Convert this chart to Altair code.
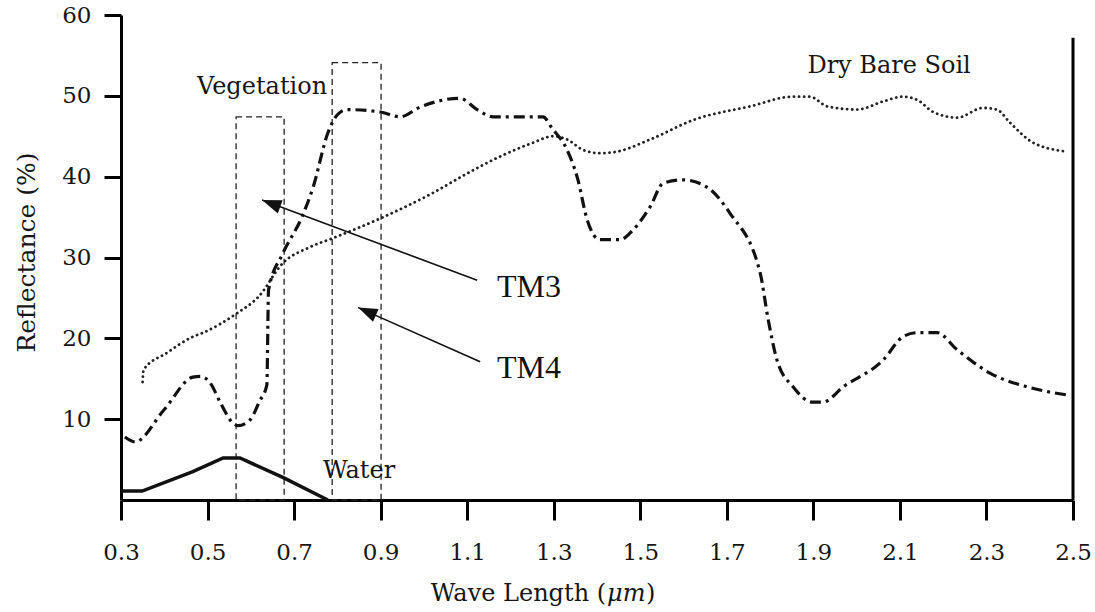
import math
import altair as alt
import pandas as pd

# ---- data ----
veg_x = [0.309, 0.332, 0.400, 0.466, 0.483, 0.506, 0.530, 0.559, 0.570, 0.598, 0.620, 0.637, 0.641,
         0.674, 0.718, 0.744, 0.778, 0.799, 0.822, 0.899, 0.945, 0.991, 1.083, 1.123, 1.160, 1.275,
         1.296, 1.331, 1.356, 1.377, 1.407, 1.453, 1.483, 1.523, 1.553, 1.599, 1.654, 1.707, 1.777,
         1.795, 1.816, 1.853, 1.899, 1.922, 1.969, 2.061, 2.107, 2.140, 2.186, 2.232, 2.308, 2.394, 2.486]
veg_y = [7.8, 7.2, 11.2, 15.2, 15.3, 14.5, 12.0, 9.5, 9.2, 9.9, 12.2, 14.2, 26.0,
         30.5, 35.0, 38.7, 45.4, 47.6, 48.3, 48.0, 47.4, 48.6, 49.7, 48.3, 47.4, 47.4,
         46.0, 43.3, 39.6, 34.7, 32.2, 32.2, 33.4, 36.3, 39.2, 39.6, 38.7, 35.5, 28.1,
         22.5, 17.3, 14.0, 12.1, 12.1, 14.0, 17.3, 20.2, 20.7, 20.7, 18.6, 15.7, 14.0, 13.0]

soil_x = [0.350, 0.352, 0.406, 0.466, 0.490, 0.568, 0.617, 0.674, 0.737, 0.790, 0.906, 1.021, 1.100,
          1.176, 1.252, 1.298, 1.331, 1.368, 1.407, 1.446, 1.523, 1.622, 1.754, 1.853, 1.892, 1.932,
          2.001, 2.061, 2.107, 2.140, 2.177, 2.232, 2.292, 2.324, 2.354, 2.408, 2.486]
soil_y = [14.6, 16.1, 18.2, 20.2, 20.7, 23.1, 25.1, 29.3, 31.3, 32.4, 35.0, 38.0, 40.4,
          42.5, 44.2, 45.0, 44.6, 43.3, 42.9, 43.1, 44.6, 47.0, 48.7, 49.9, 49.9, 48.7,
          48.3, 49.3, 49.9, 49.5, 48.0, 47.3, 48.5, 48.3, 46.7, 44.2, 43.1]

water_x = [0.300, 0.349, 0.466, 0.536, 0.575, 0.674, 0.778]
water_y = [1.1, 1.1, 3.5, 5.2, 5.2, 2.8, 0.0]

# band boxes (TM3, TM4)
box_x1 = [0.566, 0.788]
box_x2 = [0.677, 0.901]
box_top = [47.4, 54.1]

# arrows: tail -> tip
arrow_names = ["TM3", "TM4"]
arrow_tail_x = [1.123, 1.130]
arrow_tail_y = [27.2, 17.1]
arrow_tip_x = [0.626, 0.848]
arrow_tip_y = [37.1, 23.8]

# labels
label_text = ["TM3", "TM4"]
label_x = [1.243, 1.243]
label_y = [26.4, 16.3]

ann_text = ["Vegetation", "Dry Bare Soil", "Water"]
ann_x = [0.626, 2.075, 0.850]
ann_y = [51.1, 53.7, 3.6]

# x-axis title pieces: "Wave Length (" + italic "μm" + ")"
xtitle_parts = ["Wave Length (", "μm", ")"]
xtitle_anchor_x = 1.421
xtitle_anchor_y = -12.5

x_ticks = [0.3, 0.5, 0.7, 0.9, 1.1, 1.3, 1.5, 1.7, 1.9, 2.1, 2.3, 2.5]
y_ticks = [10, 20, 30, 40, 50, 60]

# ---- chart ----
W, H = 952, 485
XD = [0.3, 2.5]
YD = [0, 60]
FONT = "DejaVu Serif"
INK = "#161616"

xscale = alt.Scale(domain=XD, nice=False, zero=False)
yscale = alt.Scale(domain=YD, nice=False, zero=False)

xaxis = alt.Axis(values=x_ticks, format=".1f", title=None,
                 grid=False, domainColor="black", domainWidth=3, tickColor="black",
                 tickWidth=3, tickSize=20, labelPadding=21, labelFontSize=23,
                 labelFont=FONT, labelColor=INK, labelFlush=False)
yaxis = alt.Axis(values=y_ticks, title="Reflectance (%)", grid=False,
                 domainColor="black", domainWidth=3, tickColor="black", tickWidth=3,
                 tickSize=17, labelPadding=13, labelFontSize=23, labelFont=FONT,
                 labelColor=INK, titleFont=FONT, titleFontSize=25, titleFontWeight="normal",
                 titleColor=INK, titleAngle=270, titleX=-95, titleY=237,
                 titleAlign="center", titleBaseline="middle", labelFlush=False)


def X(field="x"):
    return alt.X(f"{field}:Q", scale=xscale, axis=xaxis)


def Y(field="y"):
    return alt.Y(f"{field}:Q", scale=yscale, axis=yaxis)


veg_df = pd.DataFrame({"x": veg_x, "y": veg_y, "o": range(len(veg_x))})
soil_df = pd.DataFrame({"x": soil_x, "y": soil_y, "o": range(len(soil_x))})
water_df = pd.DataFrame({"x": water_x, "y": water_y, "o": range(len(water_x))})

veg = alt.Chart(veg_df).mark_line(
    color="#111", strokeWidth=3.2, strokeDash=[11, 5, 3, 5], interpolate="monotone"
).encode(x=X(), y=Y(), order="o:Q")

soil = alt.Chart(soil_df).mark_line(
    color="#222", strokeWidth=2.8, strokeDash=[0.1, 5], strokeCap="round", interpolate="monotone"
).encode(x=X(), y=Y(), order="o:Q")

water = alt.Chart(water_df).mark_line(
    color="#111", strokeWidth=3.5, interpolate="linear"
).encode(x=X(), y=Y(), order="o:Q")

box_df = pd.DataFrame({"x1": box_x1, "x2": box_x2, "top": box_top, "bottom": [0, 0]})
boxes = alt.Chart(box_df).mark_rect(
    filled=False, stroke="#222", strokeWidth=1.3, strokeDash=[6, 4]
).encode(x=X("x1"), x2="x2:Q", y=Y("bottom"), y2="top:Q")

border_df = pd.DataFrame({"x": [2.5], "y": [0], "y2": [57.2]})
border = alt.Chart(border_df).mark_rule(color="black", strokeWidth=3).encode(
    x=X(), y=Y(), y2="y2:Q")

arrow_df = pd.DataFrame({"name": arrow_names, "x": arrow_tail_x, "y": arrow_tail_y,
                         "x2": arrow_tip_x, "y2": arrow_tip_y})
arrow_lines = alt.Chart(arrow_df).mark_rule(color="#111", strokeWidth=1.6).encode(
    x=X(), y=Y(), x2="x2:Q", y2="y2:Q")

px_per_x = W / (XD[1] - XD[0])
px_per_y = H / (YD[1] - YD[0])
head_layers = []
for i in range(len(arrow_names)):
    dx = (arrow_tip_x[i] - arrow_tail_x[i]) * px_per_x
    dy = -(arrow_tip_y[i] - arrow_tail_y[i]) * px_per_y
    ang = math.degrees(math.atan2(dx, -dy)) % 360
    hdf = pd.DataFrame({"x": [arrow_tip_x[i]], "y": [arrow_tip_y[i]]})
    head_layers.append(
        alt.Chart(hdf).mark_point(
            shape="M0,0 L0.36,1 L-0.36,1 Z", filled=True, color="#111", opacity=1,
            size=1500, angle=ang, strokeWidth=0
        ).encode(x=X(), y=Y())
    )

lab_df = pd.DataFrame({"t": label_text, "x": label_x, "y": label_y})
labels = alt.Chart(lab_df).mark_text(
    font="Liberation Serif", fontSize=32, color="#111", align="center", baseline="middle"
).encode(x=X(), y=Y(), text="t:N")

ann_df = pd.DataFrame({"t": ann_text, "x": ann_x, "y": ann_y})
anns = alt.Chart(ann_df).mark_text(
    font=FONT, fontSize=24, color=INK, align="center", baseline="middle"
).encode(x=X(), y=Y(), text="t:N")

# x-axis title built from three text pieces so that "μm" can be italic
t_df = pd.DataFrame({"x": [xtitle_anchor_x], "y": [xtitle_anchor_y]})
xt1 = alt.Chart(t_df).mark_text(
    font=FONT, fontSize=24, color=INK, align="right", baseline="alphabetic", text=xtitle_parts[0]
).encode(x=X(), y=Y())
xt2 = alt.Chart(t_df).mark_text(
    font=FONT, fontSize=24, fontStyle="italic", color=INK, align="left", baseline="alphabetic",
    text=xtitle_parts[1], dx=1
).encode(x=X(), y=Y())
xt3 = alt.Chart(t_df).mark_text(
    font=FONT, fontSize=24, color=INK, align="left", baseline="alphabetic",
    text=xtitle_parts[2], dx=40
).encode(x=X(), y=Y())

chart = alt.layer(
    boxes, water, soil, veg, border, arrow_lines, *head_layers, labels, anns, xt1, xt2, xt3
).properties(
    width=W, height=H,
    autosize=alt.AutoSizeParams(type="none"),
    padding={"left": 121, "top": 15, "right": 22, "bottom": 112},
    background="white",
).configure_view(stroke=None)

chart.save("out.html", embed_options={"renderer": "svg", "actions": False})
